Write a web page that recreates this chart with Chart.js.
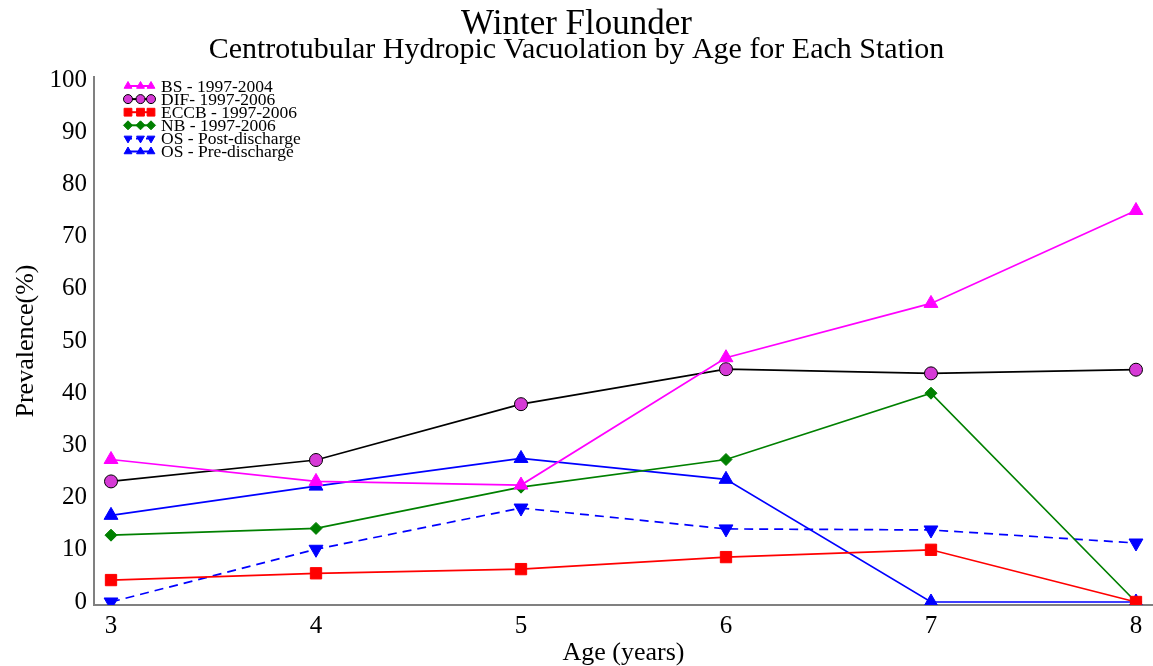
<!DOCTYPE html>
<html>
<head>
<meta charset="utf-8">
<script src="https://cdn.jsdelivr.net/npm/chart.js@4"></script>
<style>
  html, body { margin: 0; padding: 0; background: #fff; }
  #wrap { width: 1153px; height: 666px; }
</style>
</head>
<body>
<div id="wrap"><canvas id="chart" width="1153" height="666"></canvas></div>
<script>
const ages = [3, 4, 5, 6, 7, 8];
const bs = [27.3, 23.1, 22.4, 46.8, 57.2, 75.0];
const dif = [23.1, 27.2, 37.9, 44.6, 43.8, 44.5];
const eccb = [4.2, 5.5, 6.3, 8.6, 10.0, 0];
const nb = [12.8, 14.1, 22.0, 27.3, 40.0, 0];
const osPost = [0, 10.1, 18.0, 14.0, 13.8, 11.3];
const osPre = [16.6, 22.2, 27.5, 23.5, 0, 0];
const yTicks = [0, 10, 20, 30, 40, 50, 60, 70, 80, 90, 100];

const serif = "'Liberation Serif', 'DejaVu Serif', serif";

function pts(vals) {
  return vals.map((v, i) => ({ x: ages[i], y: v }));
}

function series(label, vals, color, style, radius, fill, border, dash, rot) {
  return {
    label: label,
    data: pts(vals),
    borderColor: color,
    backgroundColor: fill,
    pointBackgroundColor: fill,
    pointBorderColor: border,
    pointBorderWidth: 1,
    pointStyle: style,
    pointRadius: radius,
    pointRotation: rot || 0,
    borderWidth: 1.7,
    borderDash: dash || [],
    tension: 0
  };
}

const datasets = [
  series('BS - 1997-2004', bs, '#ff00ff', 'triangle', 8, '#ff00ff', '#ff00ff'),
  series('DIF- 1997-2006', dif, '#000000', 'circle', 6.5, '#d63ad6', '#000000'),
  series('ECCB - 1997-2006', eccb, '#ff0000', 'rect', 8, '#ff0000', '#ff0000'),
  series('NB - 1997-2006', nb, '#008000', 'rectRot', 6, '#008000', '#008000'),
  series('OS - Post-discharge', osPost, '#0000ff', 'triangle', 8, '#0000ff', '#0000ff', [9, 6], 180),
  series('OS - Pre-discharge', osPre, '#0000ff', 'triangle', 8, '#0000ff', '#0000ff')
];

// small legend drawn inside the plot, top left
const insideLegend = {
  id: 'insideLegend',
  afterDraw(chart) {
    const ctx = chart.ctx;
    const x0 = chart.chartArea.left + 32;
    let y = chart.chartArea.top + 9;
    ctx.save();
    ctx.font = '17.5px ' + serif;
    ctx.textBaseline = 'middle';
    chart.data.datasets.forEach(d => {
      ctx.strokeStyle = d.borderColor;
      ctx.lineWidth = 2;
      ctx.setLineDash(d.borderDash.length ? [6, 4] : []);
      ctx.beginPath();
      ctx.moveTo(x0, y);
      ctx.lineTo(x0 + 27, y);
      ctx.stroke();
      ctx.setLineDash([]);
      [x0 + 2, x0 + 14.5, x0 + 25].forEach(px => {
        ctx.fillStyle = d.pointBackgroundColor;
        ctx.strokeStyle = d.pointBorderColor;
        ctx.lineWidth = 1;
        Chart.helpers.drawPoint(ctx, {
          pointStyle: d.pointStyle,
          rotation: d.pointRotation,
          radius: d.pointStyle === 'rect' ? 5.5 : 4.5,
          borderWidth: 1
        }, px, y);
      });
      ctx.fillStyle = '#000';
      ctx.fillText(d.label, x0 + 35, y + 1);
      y += 13.1;
    });
    ctx.restore();
  }
};

new Chart(document.getElementById('chart'), {
  type: 'line',
  data: { datasets: datasets },
  plugins: [insideLegend],
  options: {
    responsive: false,
    animation: false,
    layout: { autoPadding: false, padding: { top: 0, right: 0, bottom: 0, left: 0 } },
    plugins: {
      legend: { display: false },
      tooltip: { enabled: false },
      title: {
        display: true,
        text: 'Winter Flounder',
        color: '#000',
        font: { family: serif, size: 35, weight: 'normal', lineHeight: 0.7 },
        padding: { top: 13, bottom: 0 }
      },
      subtitle: {
        display: true,
        text: 'Centrotubular Hydropic Vacuolation by Age for Each Station',
        color: '#000',
        font: { family: serif, size: 30, weight: 'normal', lineHeight: 0.85 },
        padding: { top: 0, bottom: 14 }
      }
    },
    scales: {
      x: {
        type: 'linear',
        min: 2.917,
        max: 8.083,
        afterBuildTicks: axis => { axis.ticks = ages.map(v => ({ value: v })); },
        afterFit: axis => {
          axis.height = 61;
          axis.paddingLeft = 0;
          axis.paddingRight = 0;
        },
        grid: { display: false, drawTicks: true, tickLength: 5, tickColor: '#808080' },
        border: { color: '#808080', width: 2 },
        ticks: { color: '#000', font: { family: serif, size: 25 }, padding: 1, maxRotation: 0 },
        title: {
          display: true,
          text: 'Age (years)',
          color: '#000',
          font: { family: serif, size: 26 },
          padding: { top: 0, bottom: -3 }
        }
      },
      y: {
        min: -0.575,
        max: 100.575,
        afterBuildTicks: axis => { axis.ticks = yTicks.map(v => ({ value: v })); },
        afterFit: axis => { axis.width = 94; },
        grid: { display: false, drawTicks: true, tickLength: 5, tickColor: '#808080' },
        border: { color: '#808080', width: 2 },
        ticks: { color: '#000', font: { family: serif, size: 25 }, padding: 2 },
        title: {
          display: true,
          text: 'Prevalence(%)',
          color: '#000',
          font: { family: serif, size: 26 },
          padding: { top: 11, bottom: 0 }
        }
      }
    }
  }
});
</script>
</body>
</html>
